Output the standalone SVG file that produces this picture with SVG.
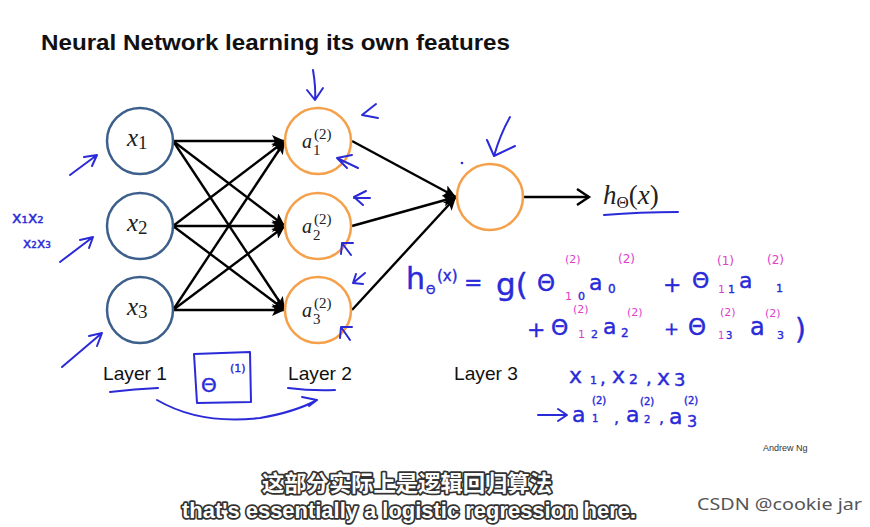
<svg xmlns="http://www.w3.org/2000/svg" width="870" height="527" viewBox="0 0 870 527">
<style>
.title{font-family:"Liberation Sans",Arial,sans-serif;font-weight:bold;font-size:22px;fill:#111}
.layer{font-family:"Liberation Sans",Arial,sans-serif;font-size:19px;fill:#111}
.math{font-family:"Liberation Serif","DejaVu Serif",serif;fill:#222}
.mi{font-style:italic}
.inode{fill:#fff;stroke:#3d5f8c;stroke-width:2.5}
.hnode{fill:#fff;stroke:#f5a04a;stroke-width:2.5}
.edge{stroke:#000;stroke-width:2.4;fill:none}
.hw{font-family:"DejaVu Sans","Noto Sans",sans-serif;fill:#2a2ad8;stroke:#2a2ad8;stroke-width:0.4}
.pk{font-family:"DejaVu Sans","Noto Sans",sans-serif;fill:#e040c8}
.ink{stroke:#2a2ad8;stroke-width:2;fill:none;stroke-linecap:round;stroke-linejoin:round}
.sub{font-weight:bold;fill:#fff;stroke:#333;stroke-width:3.5;paint-order:stroke;stroke-linejoin:round}
</style>
<defs>
<marker id="ah" markerUnits="userSpaceOnUse" markerWidth="14" markerHeight="12" refX="13" refY="6" orient="auto">
<path d="M0,0 L13,6 L0,12 L3,6 z" fill="#000"/>
</marker>
</defs>
<rect width="870" height="527" fill="#fff"/>
<text class="title" x="41" y="50" textLength="469" lengthAdjust="spacingAndGlyphs">Neural Network learning its own features</text>

<g id="connectors">
<line class="edge" x1="173" y1="141" x2="285" y2="141" marker-end="url(#ah)"/>
<line class="edge" x1="173" y1="141" x2="285" y2="226" marker-end="url(#ah)"/>
<line class="edge" x1="173" y1="141" x2="285" y2="310" marker-end="url(#ah)"/>
<line class="edge" x1="173" y1="226" x2="285" y2="141" marker-end="url(#ah)"/>
<line class="edge" x1="173" y1="226" x2="285" y2="226" marker-end="url(#ah)"/>
<line class="edge" x1="173" y1="226" x2="285" y2="310" marker-end="url(#ah)"/>
<line class="edge" x1="173" y1="310" x2="285" y2="141" marker-end="url(#ah)"/>
<line class="edge" x1="173" y1="310" x2="285" y2="226" marker-end="url(#ah)"/>
<line class="edge" x1="173" y1="310" x2="285" y2="310" marker-end="url(#ah)"/>
<line class="edge" x1="352" y1="141" x2="456" y2="197" marker-end="url(#ah)"/>
<line class="edge" x1="352" y1="226" x2="456" y2="197" marker-end="url(#ah)"/>
<line class="edge" x1="352" y1="310" x2="456" y2="197" marker-end="url(#ah)"/>
<line class="edge" x1="524" y1="197" x2="589" y2="197"/>
<path class="edge" d="M577,189 L589,197 L577,205"/>
</g>

<g id="x1"><circle class="inode" cx="140" cy="141" r="33"/><text class="math" x="127" y="146" font-size="25"><tspan class="mi">x</tspan><tspan font-size="19" dy="3">1</tspan></text></g>
<g id="x2"><circle class="inode" cx="140" cy="226" r="33"/><text class="math" x="127" y="231" font-size="25"><tspan class="mi">x</tspan><tspan font-size="19" dy="3">2</tspan></text></g>
<g id="x3"><circle class="inode" cx="140" cy="310" r="33"/><text class="math" x="127" y="315" font-size="25"><tspan class="mi">x</tspan><tspan font-size="19" dy="3">3</tspan></text></g>

<g id="a1"><circle class="hnode" cx="318" cy="141" r="33"/><text class="math" font-size="20"><tspan class="mi" x="302" y="148">a</tspan><tspan font-size="15" x="314" y="139">(2)</tspan><tspan font-size="15" x="313" y="155">1</tspan></text></g>
<g id="a2"><circle class="hnode" cx="318" cy="226" r="33"/><text class="math" font-size="20"><tspan class="mi" x="302" y="233">a</tspan><tspan font-size="15" x="314" y="224">(2)</tspan><tspan font-size="15" x="313" y="240">2</tspan></text></g>
<g id="a3"><circle class="hnode" cx="318" cy="310" r="33"/><text class="math" font-size="20"><tspan class="mi" x="302" y="317">a</tspan><tspan font-size="15" x="314" y="308">(2)</tspan><tspan font-size="15" x="313" y="324">3</tspan></text></g>

<g id="out"><circle class="hnode" cx="490" cy="197" r="33"/></g>
<g id="hx"><text class="math" x="603" y="204" font-size="27"><tspan class="mi">h</tspan><tspan font-size="17" dy="4">Θ</tspan><tspan dy="-4">(</tspan><tspan class="mi">x</tspan><tspan>)</tspan></text></g>

<text class="layer" x="103" y="380" textLength="64" lengthAdjust="spacingAndGlyphs">Layer 1</text>
<text class="layer" x="288" y="380" textLength="64" lengthAdjust="spacingAndGlyphs">Layer 2</text>
<text class="layer" x="454" y="380" textLength="64" lengthAdjust="spacingAndGlyphs">Layer 3</text>
<text x="763" y="451" font-family="Liberation Sans,Arial,sans-serif" font-size="9" fill="#333">Andrew Ng</text>

<g id="annotations">
<path class="ink" d="M70,175 L97,155 M84,157 L97,155 L92,166"/>
<path class="ink" d="M60,262 L93,237 M80,240 L93,237 L89,248"/>
<path class="ink" d="M62,367 L102,333 M89,336 L102,333 L97,346"/>
<path class="ink" d="M110,392 Q135,389 158,388"/>
<path class="ink" d="M288,388 Q312,391 335,390"/>
<path class="ink" d="M194,354 L250,352 L251,402 L197,403 Z"/>
<path class="ink" d="M157,400 Q200,425 260,418 Q295,412 317,400 M302,397 L317,400 L309,406"/>
<path class="ink" d="M313,70 Q316,88 315,100 M307,90 L315,100 L323,88"/>
<path class="ink" d="M376,104 L362,115 L378,118"/>
<path class="ink" d="M352,155 L337,158 L347,168 M337,158 L358,168"/>
<path class="ink" d="M366,191 L354,197 L363,205 M354,198 L370,198"/>
<path class="ink" d="M351,255 L342,243 L353,243 M342,243 L341,254"/>
<path class="ink" d="M365,273 L353,283 L363,284 M353,283 L356,274"/>
<path class="ink" d="M350,340 L341,327 L352,327 M341,327 L340,338"/>
<path class="ink" d="M510,117 Q500,135 494,156 M487,140 L494,156 L515,146"/>
<circle cx="462" cy="163" r="1.3" fill="#2a2ad8"/>
<path class="ink" d="M604,215 Q640,212 678,212"/>
<text class="hw" x="12" y="223" font-size="16">x₁x₂</text>
<text class="hw" x="23" y="248" font-size="14">x₂x₃</text>
<text class="hw" x="201" y="392" font-size="20">Θ</text>
<text class="hw" x="230" y="372" font-size="11">(1)</text>

<text class="hw" x="406" y="289" font-size="30">h</text>
<text class="hw" x="426" y="294" font-size="12">Θ</text>
<text class="hw" x="437" y="281" font-size="15">(x)</text>
<text class="hw" x="464" y="290" font-size="22">=</text>
<text class="hw" x="496" y="295" font-size="31">g(</text>
<text class="hw" x="537" y="291" font-size="23">Θ</text>
<text class="pk" x="565" y="263" font-size="11">(2)</text>
<text class="pk" x="565" y="300" font-size="11">1</text>
<text class="hw" x="578" y="300" font-size="11">0</text>
<text class="hw" x="589" y="290" font-size="22">a</text>
<text class="hw" x="608" y="293" font-size="12">0</text>
<text class="pk" x="618" y="263" font-size="12">(2)</text>
<text class="hw" x="663" y="292" font-size="22">+</text>
<text class="hw" x="692" y="288" font-size="22">Θ</text>
<text class="pk" x="717" y="265" font-size="12">(1)</text>
<text class="pk" x="718" y="293" font-size="11">1</text>
<text class="hw" x="728" y="293" font-size="11">1</text>
<text class="hw" x="739" y="288" font-size="22">a</text>
<text class="hw" x="776" y="292" font-size="11">1</text>
<text class="pk" x="767" y="264" font-size="12">(2)</text>

<text class="hw" x="527" y="337" font-size="22">+</text>
<text class="hw" x="551" y="335" font-size="22">Θ</text>
<text class="pk" x="573" y="313" font-size="11">(2)</text>
<text class="pk" x="578" y="338" font-size="11">1</text>
<text class="hw" x="591" y="338" font-size="11">2</text>
<text class="hw" x="603" y="334" font-size="22">a</text>
<text class="hw" x="621" y="337" font-size="12">2</text>
<text class="pk" x="627" y="316" font-size="11">(2)</text>
<text class="hw" x="664" y="335" font-size="18">+</text>
<text class="hw" x="688" y="335" font-size="23">Θ</text>
<text class="pk" x="720" y="316" font-size="11">(2)</text>
<text class="pk" x="718" y="339" font-size="10">1</text>
<text class="hw" x="726" y="339" font-size="10">3</text>
<text class="hw" x="750" y="335" font-size="24">a</text>
<text class="hw" x="777" y="339" font-size="11">3</text>
<text class="pk" x="765" y="317" font-size="11">(2)</text>
<text class="hw" x="795" y="339" font-size="28">)</text>

<text class="hw" x="569" y="383" font-size="22">x</text>
<text class="hw" x="590" y="384" font-size="11">1</text>
<text class="hw" x="600" y="384" font-size="18">,</text>
<text class="hw" x="612" y="383" font-size="22">x</text>
<text class="hw" x="629" y="384" font-size="14">2</text>
<text class="hw" x="646" y="384" font-size="18">,</text>
<text class="hw" x="657" y="385" font-size="22">x</text>
<text class="hw" x="674" y="386" font-size="18">3</text>
<path class="ink" d="M538,415 L566,415 M558,409 L567,415 L558,421"/>
<text class="hw" x="572" y="422" font-size="22">a</text>
<text class="hw" x="592" y="422" font-size="10">1</text>
<text class="hw" x="592" y="404" font-size="10">(2)</text>
<text class="hw" x="614" y="423" font-size="16">,</text>
<text class="hw" x="626" y="422" font-size="22">a</text>
<text class="hw" x="644" y="423" font-size="10">2</text>
<text class="hw" x="640" y="405" font-size="10">(2)</text>
<text class="hw" x="659" y="423" font-size="16">,</text>
<text class="hw" x="669" y="424" font-size="22">a</text>
<text class="hw" x="687" y="427" font-size="16">3</text>
<text class="hw" x="684" y="404" font-size="10">(2)</text>
</g>

<text class="sub" x="407" y="491" text-anchor="middle" font-family="Noto Sans CJK SC,sans-serif" font-size="22" textLength="290" lengthAdjust="spacingAndGlyphs">这部分实际上是逻辑回归算法</text>
<text class="sub" x="409" y="518" text-anchor="middle" font-family="Liberation Sans,Arial,sans-serif" font-size="22" textLength="454" lengthAdjust="spacingAndGlyphs">that's essentially a logistic regression here.</text>
<text x="697" y="510" font-family="Noto Sans,Liberation Sans,sans-serif" font-size="16" fill="#555" textLength="165" lengthAdjust="spacingAndGlyphs">CSDN @cookie jar</text>
</svg>
